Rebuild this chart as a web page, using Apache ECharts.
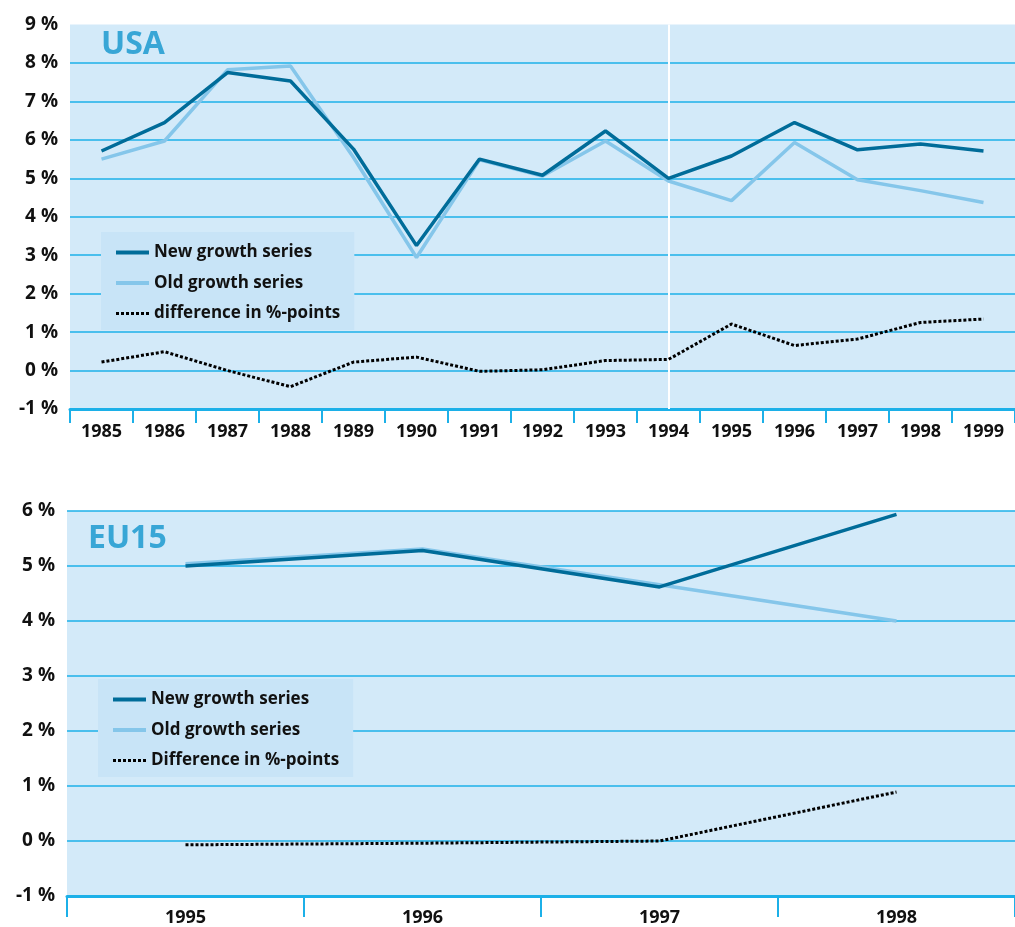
<!DOCTYPE html>
<html>
<head>
<meta charset="utf-8">
<script src="https://cdn.jsdelivr.net/npm/echarts@6/dist/echarts.min.js"></script>
<style>
html,body{margin:0;padding:0;background:#fff;}
#c{width:1015px;height:927px;}
</style>
</head>
<body>
<div id="c"></div>
<script>
// ---- data ----
const usaYears = ['1985','1986','1987','1988','1989','1990','1991','1992','1993','1994','1995','1996','1997','1998','1999'];
const usaNew  = [5.71, 6.45, 7.75, 7.53, 5.76, 3.25, 5.50, 5.08, 6.23, 5.00, 5.58, 6.45, 5.74, 5.89, 5.71];
const usaOld  = [5.50, 5.97, 7.82, 7.92, 5.54, 2.94, 5.48, 5.06, 5.97, 4.93, 4.42, 5.93, 4.96, 4.68, 4.37];
const usaDiff = [0.22, 0.49, 0.00, -0.42, 0.22, 0.35, -0.02, 0.02, 0.26, 0.29, 1.21, 0.65, 0.82, 1.25, 1.34];
const usaBreakYear = '1994';

const euYears = ['1995','1996','1997','1998'];
const euNew  = [5.00, 5.28, 4.62, 5.94];
const euOld  = [5.04, 5.31, 4.66, 4.00];
const euDiff = [-0.07, -0.04, 0.00, 0.89];

const usaLegend = ['New growth series', 'Old growth series', 'difference in %-points'];
const euLegend  = ['New growth series', 'Old growth series', 'Difference in %-points'];
const titles = ['USA', 'EU15'];

// ---- style ----
const FONT = '"Open Sans", "Noto Sans", sans-serif';
const GRID_BG = '#d3eaf9';
const GRID_LINE = '#1cb0e8';
const NEW_C = '#006c99';
const OLD_C = '#85c6ea';
const TITLE_C = '#38a6d6';
const LEG_BG = '#c8e4f7';

function yAxis(gridIndex, min, max) {
  const n = max - min + 1;
  const cols = [];
  for (let i = 0; i < n; i++) cols.push(GRID_LINE);
  if (gridIndex === 0) cols[n - 1] = 'rgba(0,0,0,0)';
  return {
    type: 'value', gridIndex, min, max, interval: 1,
    axisLine: {show: false}, axisTick: {show: false},
    axisLabel: {formatter: '{value} %', color: '#111', fontFamily: FONT, fontWeight: 'bold', fontSize: 19, margin: 12},
    splitLine: {show: true, lineStyle: {color: cols, width: 1.5}}
  };
}
function xAxis(gridIndex, data, tickLen, margin) {
  return {
    type: 'category', gridIndex, data, boundaryGap: true,
    axisLine: {show: true, onZero: false, lineStyle: {color: GRID_LINE, width: 3}},
    axisTick: {show: true, length: tickLen, lineStyle: {color: GRID_LINE, width: 2}},
    axisLabel: {color: '#111', fontFamily: FONT, fontWeight: 'bold', fontSize: 18, margin, interval: 0},
    splitLine: {show: false}
  };
}
function legend(names, left, top) {
  const hide = {color: 'rgba(0,0,0,0)', borderWidth: 0, opacity: 0};
  return {
    orient: 'vertical', left, top,
    backgroundColor: LEG_BG,
    padding: [12, 14, 8, 13],
    itemWidth: 33, itemHeight: 16, itemGap: 13.5,
    textStyle: {color: '#111', fontFamily: FONT, fontSize: 17, fontWeight: 'bold'},
    itemStyle: hide,
    data: [
      {name: names[0], itemStyle: hide, lineStyle: {width: 4, color: NEW_C}},
      {name: names[1], itemStyle: hide, lineStyle: {width: 4, color: OLD_C}},
      {name: names[2], itemStyle: hide, lineStyle: {width: 3, color: '#000', type: [3, 2]}}
    ],
    selectedMode: false
  };
}
function line(name, data, xi, color, width, dash, extra) {
  return Object.assign({
    type: 'line', name, data, xAxisIndex: xi, yAxisIndex: xi,
    symbol: 'none', showSymbol: false, smooth: false,
    lineStyle: {color, width, type: dash || 'solid'},
    itemStyle: {color},
    animation: false
  }, extra || {});
}

const chart = echarts.init(document.getElementById('c'), null, {renderer: 'canvas'});
chart.setOption({
  animation: false,
  grid: [
    {left: 70, top: 24.5, right: 0, height: 384.5, show: true, backgroundColor: GRID_BG, borderWidth: 0},
    {left: 67, top: 511, right: -4, height: 385, show: true, backgroundColor: GRID_BG, borderWidth: 0}
  ],
  xAxis: [xAxis(0, usaYears, 14, 14), xAxis(1, euYears, 21, 13)],
  yAxis: [yAxis(0, -1, 9), yAxis(1, -1, 6)],
  legend: [legend(usaLegend, 101, 232), legend(euLegend, 98, 679)],
  graphic: [
    {type: 'text', left: 101, top: 29, style: {text: titles[0], fill: TITLE_C, font: 'bold 32px ' + FONT}},
    {type: 'text', left: 88, top: 523, style: {text: titles[1], fill: TITLE_C, font: 'bold 32px ' + FONT}}
  ],
  series: [
    line(usaLegend[1], usaOld, 0, OLD_C, 3.5, null, {
      markLine: {silent: true, symbol: 'none', label: {show: false},
        lineStyle: {color: '#ffffff', width: 2, type: 'solid'},
        data: [{xAxis: usaBreakYear}], z: 1}
    }),
    line(usaLegend[0], usaNew, 0, NEW_C, 3.5),
    line(usaLegend[2], usaDiff, 0, '#000', 3, [3, 2]),
    line(euLegend[1], euOld, 1, OLD_C, 3.5),
    line(euLegend[0], euNew, 1, NEW_C, 3.5),
    line(euLegend[2], euDiff, 1, '#000', 3, [3, 2])
  ]
});
</script>
</body>
</html>
